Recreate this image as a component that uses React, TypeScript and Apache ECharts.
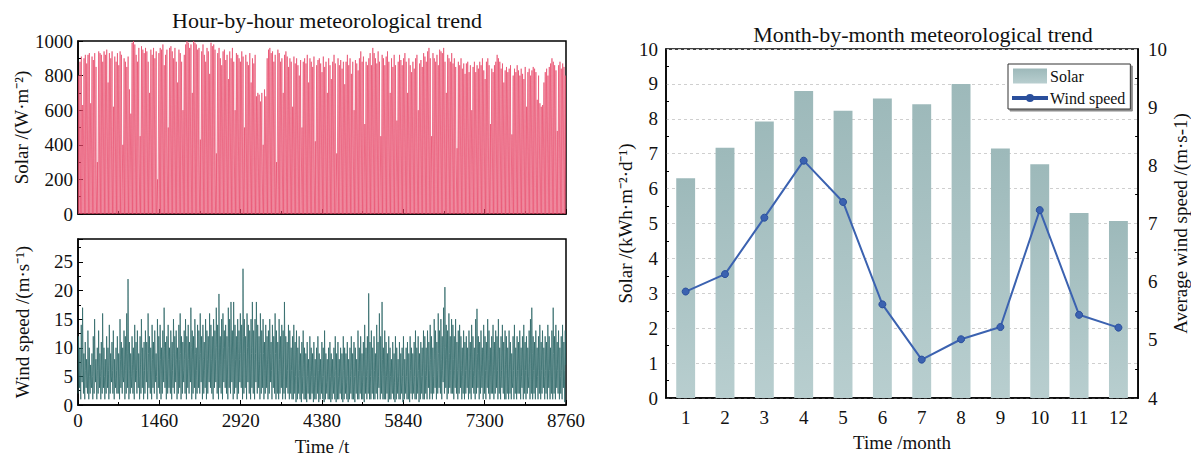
import React, { useEffect, useRef } from "react";
import * as echarts from "echarts";

// Daily peak solar irradiance (W/m2)
const solarDailyPeak: number[] = [
  800, 880, 910, 630, 900, 920, 870, 920, 930, 640,
  910, 890, 930, 850, 300, 940, 930, 920, 880, 940,
  920, 950, 760, 930, 900, 940, 620, 910, 880, 930,
  860, 940, 920, 400, 900, 880, 850, 910, 720, 580,
  990, 1000, 980, 920, 880, 960, 450, 970, 950, 930,
  960, 940, 880, 700, 950, 920, 960, 900, 940, 200,
  930, 960, 950, 980, 860, 920, 950, 500, 960, 970,
  940, 900, 960, 880, 760, 950, 930, 880, 600, 920,
  980, 1000, 990, 960, 980, 700, 1000, 990, 980, 950,
  960, 430, 940, 980, 920, 880, 960, 940, 810, 990,
  970, 980, 950, 350, 930, 960, 900, 860, 940, 950,
  890, 920, 780, 940, 900, 960, 880, 600, 930, 920,
  900, 880, 940, 910, 500, 920, 880, 860, 930, 760,
  900, 870, 920, 680, 700, 690, 650, 700, 400, 720,
  680, 900, 950, 960, 930, 940, 880, 920, 300, 950,
  930, 880, 900, 700, 920, 940, 910, 850, 900, 880,
  620, 910, 870, 900, 860, 800, 890, 500, 880, 900,
  870, 920, 760, 900, 880, 850, 910, 420, 860, 890,
  900, 870, 820, 910, 850, 880, 700, 900, 860, 780,
  880, 920, 870, 350, 900, 860, 890, 840, 880, 750,
  880, 920, 860, 900, 810, 880, 600, 890, 870, 830,
  900, 940, 880, 910, 520, 880, 860, 900, 930, 860,
  960, 930, 900, 870, 940, 880, 450, 920, 900, 860,
  910, 940, 880, 700, 900, 850, 920, 860, 540, 880,
  920, 890, 860, 900, 930, 880, 700, 900, 860, 820,
  880, 840, 900, 920, 600, 870, 890, 850, 930, 910,
  880, 940, 960, 900, 450, 930, 900, 880, 920, 860,
  950, 940, 930, 960, 880, 700, 920, 900, 880, 930,
  870, 900, 850, 380, 880, 860, 900, 840, 870, 810,
  870, 880, 820, 860, 600, 850, 880, 820, 860, 840,
  880, 860, 900, 830, 780, 880, 900, 860, 520, 840,
  820, 860, 880, 920, 900, 880, 840, 870, 760, 830,
  850, 820, 840, 860, 460, 800, 840, 820, 860, 830,
  800, 840, 810, 780, 850, 620, 820, 840, 800, 830,
  850, 840, 820, 660, 800, 640, 620, 630, 760, 820,
  840, 800, 850, 870, 900, 880, 860, 830, 480, 860,
  880, 840, 870, 850, 800,
];

// Daily maximum / typical / minimum wind speed (m/s)
const windDailyMax: number[] = [
  12, 10, 14, 17, 9, 11, 8, 13, 10, 7,
  9, 12, 15, 8, 10, 13, 9, 11, 16, 10,
  8, 12, 10, 14, 9, 11, 13, 8, 10, 12,
  9, 15, 11, 10, 13, 12, 16, 22, 11, 9,
  12, 10, 14, 11, 13, 9, 12, 15, 10, 11,
  13, 11, 16, 12, 10, 14, 11, 13, 9, 15,
  12, 14, 10, 13, 17, 11, 12, 14, 10, 13,
  11, 15, 12, 13, 10, 14, 16, 12, 11, 13,
  15, 12, 14, 11, 17, 13, 12, 15, 10, 14,
  13, 16, 12, 14, 11, 15, 13, 12, 16, 14,
  12, 15, 13, 17, 14, 19.4, 12, 15, 16, 13,
  14, 12, 17, 15, 18, 13, 18, 14, 12, 15,
  13, 16, 14, 23.8, 15, 12, 16, 14, 13, 15,
  18, 13, 15, 18, 14, 12, 16, 13, 15, 11,
  14, 12, 13, 15, 11, 14, 12, 16, 13, 11,
  15, 12, 14, 13, 18, 12, 11, 14, 13, 10,
  12, 14, 11, 13, 10, 12, 9, 11, 13, 10,
  9, 11, 8, 12, 10, 9, 11, 8, 10, 12,
  9, 8, 11, 10, 13, 9, 8, 10, 11, 9,
  8, 10, 12, 9, 11, 8, 10, 9, 12, 10,
  9, 11, 8, 10, 12, 9, 11, 10, 8, 13,
  10, 12, 9, 11, 14, 10, 12, 19.5, 11, 13,
  10, 12, 9, 14, 11, 16, 12, 18, 10, 13,
  11, 9, 12, 10, 8, 11, 9, 12, 10, 8,
  11, 9, 10, 12, 8, 10, 11, 9, 12, 10,
  9, 11, 13, 10, 12, 9, 11, 10, 13, 12,
  10, 13, 11, 14, 12, 10, 15, 13, 11, 16,
  13, 15, 12, 17, 20.6, 14, 13, 16, 12, 15,
  14, 12, 15, 11, 13, 14, 12, 10, 13, 11,
  12, 10, 13, 11, 14, 12, 10, 15, 16.8, 12,
  11, 13, 10, 14, 12, 11, 15, 13, 10, 12,
  14, 11, 13, 12, 15, 10, 12, 14, 11, 13,
  12, 10, 13, 11, 9, 12, 14, 10, 12, 11,
  13, 10, 12, 14, 11, 12, 10, 13, 15, 17,
  12, 11, 13, 10, 12, 14, 11, 13, 10, 12,
  11, 14, 12, 10, 13, 17, 12, 14, 11, 13,
  10, 12, 14, 11, 13,
];

const windDailyMid: number[] = [
  6, 5, 7, 9, 4, 6, 5, 7, 5, 4,
  5, 7, 8, 4, 6, 7, 5, 6, 8, 5,
  4, 7, 6, 8, 5, 6, 7, 4, 6, 7,
  5, 8, 6, 5, 7, 6, 9, 11, 6, 5,
  7, 6, 8, 6, 7, 5, 7, 9, 6, 6,
  8, 6, 9, 7, 6, 8, 6, 7, 5, 9,
  7, 8, 6, 8, 10, 6, 7, 8, 6, 8,
  6, 9, 7, 8, 6, 8, 9, 7, 6, 8,
  9, 7, 8, 6, 10, 8, 7, 9, 6, 8,
  8, 9, 7, 8, 6, 9, 8, 7, 9, 8,
  7, 9, 8, 10, 8, 11, 7, 9, 10, 8,
  8, 7, 10, 9, 11, 8, 10, 8, 7, 9,
  8, 9, 8, 12, 9, 7, 10, 8, 8, 9,
  10, 8, 9, 11, 8, 7, 9, 8, 9, 6,
  8, 7, 8, 9, 6, 8, 7, 9, 8, 6,
  8, 7, 8, 7, 10, 7, 6, 8, 7, 6,
  6, 7, 5, 6, 5, 6, 4, 5, 7, 5,
  4, 5, 4, 6, 5, 4, 5, 4, 5, 6,
  4, 4, 5, 5, 6, 4, 4, 5, 5, 4,
  4, 5, 6, 4, 5, 4, 5, 4, 6, 5,
  4, 5, 4, 5, 6, 4, 5, 5, 4, 6,
  5, 6, 4, 5, 7, 5, 6, 9, 5, 6,
  5, 6, 4, 7, 5, 8, 6, 8, 5, 6,
  5, 4, 6, 5, 4, 5, 4, 6, 5, 4,
  5, 4, 5, 6, 4, 5, 5, 4, 6, 5,
  4, 5, 6, 5, 6, 4, 5, 5, 6, 6,
  5, 7, 6, 8, 6, 5, 8, 7, 6, 9,
  7, 8, 6, 9, 10, 8, 7, 9, 6, 8,
  8, 6, 8, 6, 7, 8, 6, 5, 7, 6,
  6, 5, 7, 6, 8, 6, 5, 8, 9, 6,
  6, 7, 5, 8, 6, 6, 8, 7, 5, 6,
  7, 6, 7, 6, 8, 5, 6, 7, 6, 7,
  6, 5, 7, 6, 4, 6, 7, 5, 6, 6,
  7, 5, 6, 7, 6, 6, 5, 7, 8, 9,
  6, 6, 7, 5, 6, 7, 6, 7, 5, 6,
  6, 7, 6, 5, 7, 9, 6, 7, 6, 7,
  5, 6, 7, 6, 7,
];

const windDailyMin: number[] = [
  2, 3, 1, 4, 2, 1, 3, 2, 1, 2,
  3, 1, 2, 4, 1, 2, 3, 1, 2, 3,
  1, 2, 3, 1, 2, 4, 2, 1, 3, 2,
  2, 1, 3, 2, 4, 1, 2, 3, 1, 2,
  3, 2, 1, 4, 2, 3, 1, 2, 3, 1,
  2, 4, 1, 3, 2, 1, 3, 2, 4, 1,
  3, 2, 1, 2, 4, 3, 1, 2, 3, 2,
  1, 3, 2, 4, 1, 2, 3, 1, 2, 4,
  2, 1, 3, 2, 4, 1, 2, 3, 1, 2,
  3, 2, 4, 1, 2, 3, 1, 2, 4, 3,
  2, 1, 3, 4, 2, 1, 3, 2, 1, 4,
  3, 2, 1, 3, 2, 4, 1, 2, 3, 1,
  2, 4, 3, 1, 2, 3, 1, 4, 2, 1,
  3, 2, 1, 4, 2, 3, 1, 2, 3, 1,
  2, 3, 1, 2, 4, 1, 3, 2, 1, 2,
  1, 2, 3, 1, 2, 1, 3, 2, 1, 2,
  1, 1, 2, 0.5, 1, 2, 1, 0.5, 2, 1,
  1, 0.5, 2, 1, 1, 2, 0.5, 1, 1, 2,
  0.5, 1, 2, 1, 0.5, 1, 2, 1, 1, 0.5,
  1, 2, 1, 0.5, 1, 1, 2, 1, 0.5, 1,
  2, 1, 0.5, 1, 2, 1, 1, 0.5, 2, 1,
  1, 2, 1, 1, 0.5, 2, 1, 2, 1, 1,
  2, 1, 1, 2, 1, 3, 1, 2, 1, 1,
  1, 2, 0.5, 1, 1, 2, 1, 0.5, 1, 2,
  1, 1, 2, 0.5, 1, 2, 1, 1, 0.5, 2,
  1, 2, 1, 1, 2, 0.5, 1, 2, 1, 1,
  2, 1, 3, 1, 2, 1, 2, 3, 1, 2,
  3, 2, 1, 4, 2, 3, 1, 2, 3, 2,
  2, 1, 3, 2, 1, 2, 3, 1, 2, 1,
  2, 3, 1, 2, 1, 3, 2, 1, 2, 3,
  1, 2, 3, 1, 2, 1, 3, 2, 1, 2,
  2, 1, 2, 3, 1, 2, 1, 3, 2, 1,
  1, 2, 1, 2, 1, 3, 1, 2, 1, 2,
  2, 1, 3, 1, 2, 1, 2, 3, 1, 2,
  1, 2, 1, 3, 1, 2, 1, 2, 3, 1,
  2, 1, 3, 1, 2, 1, 2, 1, 3, 2,
  1, 2, 1, 3, 0.5,
];

// Monthly chart
const months: string[] = ["1", "2", "3", "4", "5", "6", "7", "8", "9", "10", "11", "12"];
const solarMonthly: number[] = [6.3, 7.17, 7.92, 8.8, 8.23, 8.58, 8.42, 9.0, 7.15, 6.7, 5.3, 5.07];
const windMonthly: number[] = [5.83, 6.13, 7.1, 8.08, 7.37, 5.61, 4.66, 5.01, 5.22, 7.23, 5.43, 5.21];

const hourTicks = { min: 0, max: 8760, interval: 1460 };

const FONT = "'Liberation Serif', 'Times New Roman', serif";

// legend icon: short thick line with a small dot
const LINE_DOT_ICON =
  "path://M0,6 L34,6 L34,8 L0,8 Z M14,7 A3,3 0 1,0 20,7 A3,3 0 1,0 14,7 Z";

export default function App() {
  const ref = useRef<HTMLDivElement>(null);

  useEffect(() => {
    if (!ref.current) return;
    const chart = echarts.init(ref.current, undefined, { renderer: "svg" });

    const solarHourly: [number, number][] = [];
    solarDailyPeak.forEach((p, d) => {
      solarHourly.push([d * 24 + 6, 0]);
      solarHourly.push([d * 24 + 12, p]);
      solarHourly.push([d * 24 + 18, 0]);
    });
    const windHourly: [number, number][] = [];
    windDailyMax.forEach((mx, d) => {
      windHourly.push([d * 24 + 2, windDailyMin[d]]);
      windHourly.push([d * 24 + 10, mx]);
      windHourly.push([d * 24 + 18, windDailyMid[d]]);
    });

    const axisLine = { show: true, lineStyle: { color: "#000", width: 1.5 } };
    const labelStyle = { color: "#111", fontFamily: FONT, fontSize: 19, fontWeight: "normal" };
    const nameStyle = { color: "#111", fontFamily: FONT, fontSize: 19, fontWeight: "normal" };
    const plain = (v: number) => String(v);
    const tickIn = { inside: true, length: 5, lineStyle: { color: "#000" } };
    const minorIn = { show: true, splitNumber: 2, length: 3, lineStyle: { color: "#000" } };

    chart.setOption({
      animation: false,
      textStyle: { fontFamily: FONT },
      title: [
        {
          text: "Hour-by-hour meteorological trend",
          left: 322,
          top: 4,
          textAlign: "center",
          textStyle: { fontFamily: FONT, fontSize: 22, fontWeight: "normal", color: "#111" },
        },
        {
          text: "Month-by-month meteorological trend",
          left: 918,
          top: 18,
          textAlign: "center",
          textStyle: { fontFamily: FONT, fontSize: 22, fontWeight: "normal", color: "#111" },
        },
      ],
      legend: {
        orient: "vertical",
        left: 1008,
        top: 64,
        padding: [4, 5, 3, 4],
        itemGap: 6,
        itemWidth: 34,
        itemHeight: 15,
        borderColor: "#333",
        borderWidth: 1,
        shadowColor: "rgba(0,0,0,0.45)",
        shadowOffsetX: 2,
        shadowOffsetY: 2,
        shadowBlur: 1,
        backgroundColor: "#fff",
        textStyle: { fontFamily: FONT, fontSize: 16, color: "#111", padding: [0, 0, 0, -2] },
        data: [{ name: "Solar", icon: "rect" }, { name: "Wind speed", icon: LINE_DOT_ICON }],
      },
      grid: [
        { left: 78, width: 488, top: 41, height: 173, show: true, borderColor: "#000", borderWidth: 1.5 },
        { left: 78, width: 488, top: 239, height: 173, show: true, borderColor: "#000", borderWidth: 1.5 },
        { left: 666, width: 475, top: 49, height: 357, show: true, borderColor: "#000", borderWidth: 1.5 },
      ],
      xAxis: [
        {
          gridIndex: 0, type: "value", ...hourTicks,
          axisLine, axisTick: tickIn, minorTick: minorIn,
          axisLabel: { show: false }, splitLine: { show: false },
        },
        {
          gridIndex: 1, type: "value", ...hourTicks,
          axisLine, axisTick: tickIn, minorTick: minorIn,
          axisLabel: { ...labelStyle, margin: 6, formatter: plain }, splitLine: { show: false },
          name: "Time /t", nameLocation: "middle", nameGap: 32, nameTextStyle: nameStyle,
        },
        {
          gridIndex: 2, type: "category", data: months,
          axisLine, axisTick: { alignWithLabel: true, length: 5, lineStyle: { color: "#000" } },
          axisLabel: { ...labelStyle, margin: 10 }, splitLine: { show: false },
          name: "Time /month", nameLocation: "middle", nameGap: 35, nameTextStyle: nameStyle,
        },
      ],
      yAxis: [
        {
          gridIndex: 0, type: "value", min: 0, max: 1000, interval: 200,
          axisLine, axisTick: tickIn, minorTick: minorIn,
          axisLabel: { ...labelStyle, margin: 5, formatter: plain }, splitLine: { show: false },
          name: "Solar /(W·m⁻²)", nameLocation: "middle", nameGap: 46, nameTextStyle: nameStyle,
        },
        {
          gridIndex: 1, type: "value", min: 0, max: 29, interval: 5,
          axisLine, axisTick: tickIn, minorTick: minorIn,
          axisLabel: { ...labelStyle, margin: 5, showMaxLabel: false, formatter: plain }, splitLine: { show: false },
          name: "Wind speed /(m·s⁻¹)", nameLocation: "middle", nameGap: 46, nameTextStyle: nameStyle,
        },
        {
          gridIndex: 2, type: "value", min: 0, max: 10, interval: 1, position: "left",
          axisLine, axisTick: tickIn, minorTick: minorIn,
          axisLabel: { ...labelStyle, margin: 8 },
          splitLine: { show: true, lineStyle: { color: "#cfcfcf", type: [3, 3], width: 1 } },
          name: "Solar /(kWh·m⁻²·d⁻¹)", nameLocation: "middle", nameGap: 30, nameTextStyle: nameStyle,
        },
        {
          gridIndex: 2, type: "value", min: 4, max: 10, interval: 1, position: "right",
          axisLine, axisTick: tickIn, minorTick: minorIn,
          axisLabel: { ...labelStyle, margin: 10 }, splitLine: { show: false },
          name: "Average wind speed /(m·s-1)", nameLocation: "middle", nameGap: 32, nameTextStyle: nameStyle,
        },
      ],
      series: [
        {
          name: "Solar hourly", type: "line", xAxisIndex: 0, yAxisIndex: 0,
          data: solarHourly, symbol: "none",
          lineStyle: { color: "#e8486a", width: 0.75, opacity: 0.9 },
          z: 1,
        },
        {
          name: "Wind hourly", type: "line", xAxisIndex: 1, yAxisIndex: 1,
          data: windHourly, symbol: "none",
          lineStyle: { color: "#276363", width: 0.85, opacity: 0.88 },
          z: 1,
        },
        {
          name: "Solar", type: "bar", xAxisIndex: 2, yAxisIndex: 2,
          data: solarMonthly, barWidth: "48%",
          itemStyle: {
            color: new echarts.graphic.LinearGradient(0, 0, 0, 1, [
              { offset: 0, color: "#9db9ba" },
              { offset: 1, color: "#b8cecf" },
            ]),
          },
        },
        {
          name: "Wind speed", type: "line", xAxisIndex: 2, yAxisIndex: 3,
          data: windMonthly, symbol: "circle", symbolSize: 7,
          lineStyle: { color: "#3b62b0", width: 2 },
          itemStyle: { color: "#3b62b0", borderColor: "#2a4f9c", borderWidth: 1 },
          z: 5,
        },
      ],
    });

    return () => chart.dispose();
  }, []);

  return (
    <div
      ref={ref}
      style={{ position: "fixed", left: 0, top: 0, width: 1191, height: 457, background: "#fff" }}
    />
  );
}
